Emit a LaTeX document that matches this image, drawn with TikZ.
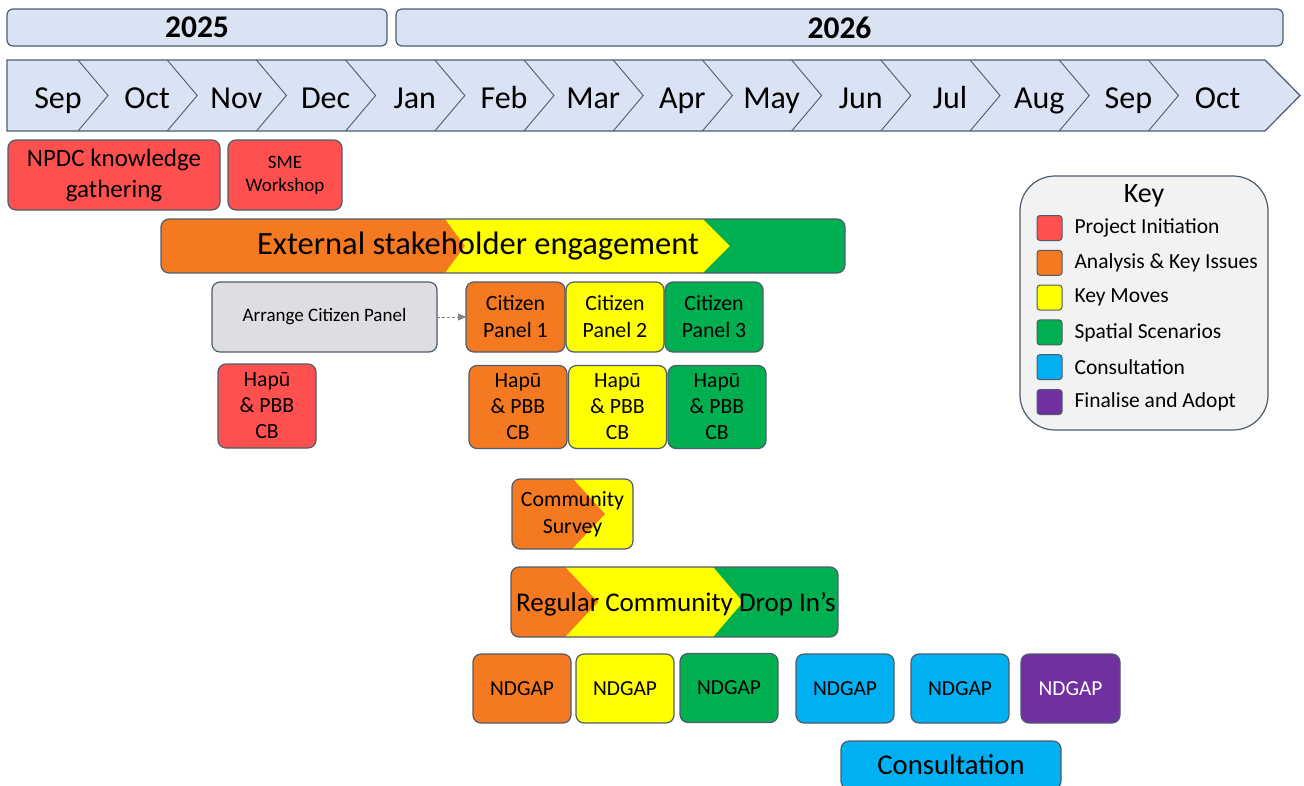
\documentclass[tikz,border=0pt]{standalone}
\usepackage{fontspec}
\setmainfont{Carlito}
\usetikzlibrary{arrows.meta}
\usetikzlibrary{backgrounds}

\definecolor{cRed}{RGB}{255,80,80}
\definecolor{cOrange}{RGB}{244,121,32}
\definecolor{cYellow}{RGB}{255,255,0}
\definecolor{cGreen}{RGB}{0,176,80}
\definecolor{cBlue}{RGB}{0,176,240}
\definecolor{cPurple}{RGB}{112,48,160}
\definecolor{cGrey}{RGB}{222,222,226}
\definecolor{cPale}{RGB}{218,227,243}
\definecolor{cKey}{RGB}{242,242,242}
\definecolor{cEdge}{RGB}{76,92,108}

\begin{document}
\begin{tikzpicture}[x=1pt,y=-1pt,
    box/.style={draw=cEdge,line width=1.2pt,rounded corners=8pt,outer sep=0pt,inner sep=2pt,align=center,text=black},
    year/.style={box,fill=cPale,rounded corners=6pt,minimum height=37,font=\bfseries\fontsize{31.5}{36}\selectfont},
    month/.style={anchor=base,font=\fontsize{32}{38}\selectfont},
    cell/.style={box,minimum width=98,minimum height=70,font=\fontsize{21.8}{27}\selectfont},
    hapu/.style={cell,minimum height=83,font=\fontsize{21.7}{26}\selectfont},
    ndgap/.style={cell,minimum height=69,font=\fontsize{21.4}{26}\selectfont},
    swatch/.style={draw=cEdge,line width=1pt,rounded corners=3pt,minimum size=25,inner sep=0pt},
    keytext/.style={anchor=west,font=\fontsize{21.5}{26}\selectfont},
    link/.style={gray,densely dashed,line width=0.6pt,-{Triangle[length=8pt,width=7pt]}}
  ]
    \useasboundingbox (0,0) rectangle (1304,785);

    % years
    \node[year,minimum width=380] (y2025) at (197,27.5) {2025};
    \node[year,minimum width=887] (y2026) at (839.5,27.5) {2026};

    % month chevrons
    \draw[cEdge,line width=1.2pt,fill=cPale] (7,60) -- (1265,60) -- (1300,95.5) -- (1265,131) -- (7,131) -- cycle;
    \foreach \i in {1,...,13}
        \draw[cEdge,line width=0.9pt] ({78+89.2*(\i-1)},60) -- ({108+89.2*(\i-1)},95.5) -- ({78+89.2*(\i-1)},131);
    \foreach \m [count=\i from 0] in {Sep,Oct,Nov,Dec,Jan,Feb,Mar,Apr,May,Jun,Jul,Aug,Sep,Oct}
        \node[month] (m\i) at ({58+89.2*\i},108) {\m};

    % project initiation
    \node[box,fill=cRed,minimum width=212,minimum height=70,font=\fontsize{25}{31}\selectfont] (npdc) at (114,175) {NPDC knowledge\\gathering};
    \node[box,fill=cRed,minimum width=114,minimum height=70,font=\fontsize{19}{23}\selectfont] (sme) at (285,175) {SME\\Workshop};

    % external stakeholder engagement
    \node[box,minimum width=684,minimum height=54] (ext) at (503,246) {};
    \begin{scope}[on background layer]
        \begin{scope}
            \clip[rounded corners=8pt] (ext.north west) rectangle (ext.south east);
            \fill[cOrange] (ext.north west) rectangle (ext.south east);
            \fill[cYellow] (445,219) -- (465,246) -- (445,273) -- (703,273) -- (730,246) -- (703,219) -- cycle;
            \fill[cGreen] (703,219) -- (730,246) -- (703,273) -- (850,273) -- (850,219) -- cycle;
        \end{scope}
    \end{scope}
    \node[font=\fontsize{32.5}{38}\selectfont] (exttext) at ([xshift=-25pt]ext.center) {External stakeholder engagement};

    % citizen panels
    \node[box,fill=cGrey,minimum width=225,minimum height=70,font=\fontsize{19}{23}\selectfont] (arrange) at (324.5,317) {Arrange Citizen Panel};
    \node[cell,fill=cOrange,minimum width=99] (cp1) at (515.5,317) {Citizen\\Panel 1};
    \node[cell,fill=cYellow] (cp2) at (615,317) {Citizen\\Panel 2};
    \node[cell,fill=cGreen] (cp3) at (714,317) {Citizen\\Panel 3};
    \draw[link] (arrange) -- (cp1);

    % hapu & PBB community boards
    \node[hapu,fill=cRed,minimum height=84] (hapu0) at (267,406) {Hapū\\\& PBB\\CB};
    \node[hapu,fill=cOrange] (hapu1) at (518,407) {Hapū\\\& PBB\\CB};
    \node[hapu,fill=cYellow] (hapu2) at (617.5,407) {Hapū\\\& PBB\\CB};
    \node[hapu,fill=cGreen] (hapu3) at (717,407) {Hapū\\\& PBB\\CB};

    % community survey
    \node[cell,minimum width=121] (survey) at (572.5,514) {Community\\Survey};
    \begin{scope}[on background layer]
        \begin{scope}
            \clip[rounded corners=8pt] (survey.north west) rectangle (survey.south east);
            \fill[cYellow] (survey.north west) rectangle (survey.south east);
            \fill[cOrange] (505,479) -- (573,479) -- (605,514) -- (572,549) -- (505,549) -- cycle;
        \end{scope}
    \end{scope}

    % drop in sessions
    \node[box,minimum width=327,minimum height=70] (dropin) at (674.5,602) {};
    \begin{scope}[on background layer]
        \begin{scope}
            \clip[rounded corners=8pt] (dropin.north west) rectangle (dropin.south east);
            \fill[cGreen] (dropin.north west) rectangle (dropin.south east);
            \fill[cYellow] (505,567) -- (713,567) -- (743,602) -- (713,637) -- (505,637) -- cycle;
            \fill[cOrange] (505,567) -- (565,567) -- (598,602) -- (565,637) -- (505,637) -- cycle;
        \end{scope}
    \end{scope}
    \node[font=\fontsize{27}{32}\selectfont] (dropintext) at (676,604) {Regular Community Drop In’s};

    % NDGAP meetings
    \node[ndgap,fill=cOrange] (nd1) at (522,688.5) {NDGAP};
    \node[ndgap,fill=cYellow] (nd2) at (625,688.5) {NDGAP};
    \node[ndgap,fill=cGreen] (nd3) at (729,688) {NDGAP};
    \node[ndgap,fill=cBlue] (nd4) at (845,688.5) {NDGAP};
    \node[ndgap,fill=cBlue] (nd5) at (960,688.5) {NDGAP};
    \node[ndgap,fill=cPurple,text=white,minimum width=99] (nd6) at (1070.5,688.5) {NDGAP};

    \node[box,fill=cBlue,minimum width=220,minimum height=48,font=\fontsize{28.7}{34}\selectfont] (consult) at (951,765) {Consultation};

    % key
    \node[box,fill=cKey,rounded corners=35pt,minimum width=248,minimum height=254] (key) at (1144,303) {};
    \node[font=\fontsize{28}{32}\selectfont] (keytitle) at (1144,196) {Key};
    \foreach \c/\t [count=\k from 0] in {cRed/Project Initiation,cOrange/Analysis \& Key Issues,cYellow/Key Moves,cGreen/Spatial Scenarios,cBlue/Consultation,cPurple/Finalise and Adopt}
    {
        \node[swatch,fill=\c] (sw\k) at (1049.5,{228+34.8*\k}) {};
        \node[keytext] (kt\k) at (1071,{228+34.8*\k}) {\t};
    }
\end{tikzpicture}
\end{document}
